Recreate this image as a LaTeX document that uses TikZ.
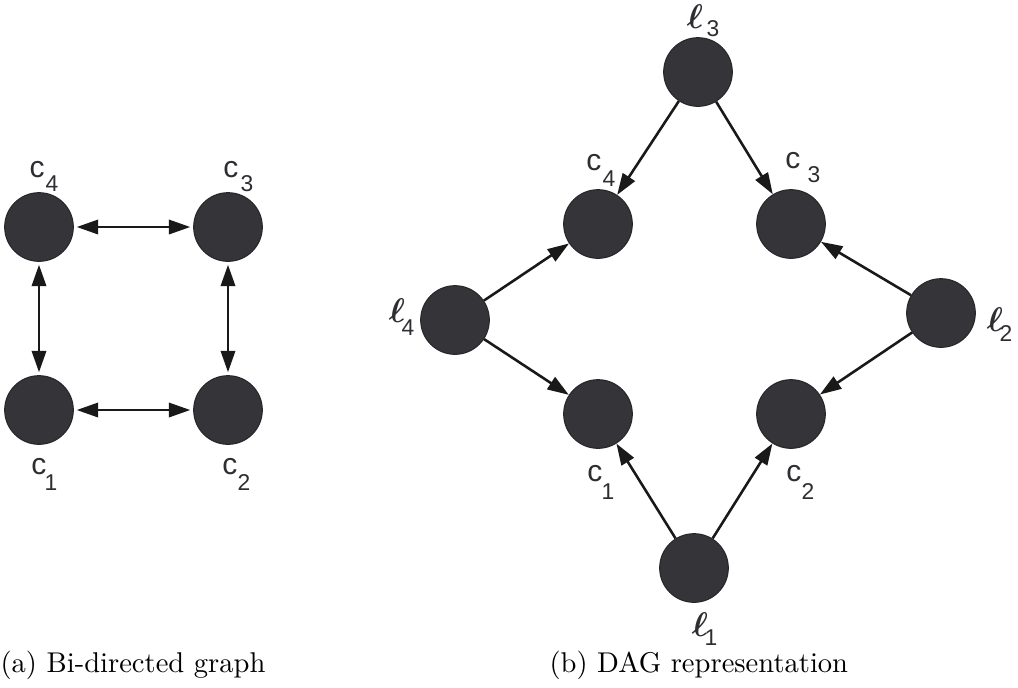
\documentclass[tikz,border=0pt]{standalone}
\usepackage{bm}
\usepackage{fontspec}
\newfontfamily\arial{Liberation Sans}
\usetikzlibrary{arrows.meta}
\definecolor{nodefill}{RGB}{52,52,57}
\definecolor{nodeline}{RGB}{40,40,44}
\definecolor{labelcol}{RGB}{45,45,50}
\newcommand{\bell}{$\bm{\ell}$}
\begin{document}
\begin{tikzpicture}[x=0.35pt,y=-0.35pt,
  vtx/.style={circle,fill=nodefill,draw=nodeline,line width=0.4pt,minimum size=24pt,inner sep=0pt},
  lt/.style={inner sep=0pt,text=labelcol,font=\arial\fontsize{10.5}{10.5}\selectfont},
  sb/.style={inner sep=0pt,text=labelcol,font=\arial\fontsize{8}{8}\selectfont},
  elltxt/.style={inner sep=0pt,text=labelcol,font=\fontsize{11.5}{11.5}\selectfont},
  arr/.style={-{Triangle[length=7.5pt,width=5pt]},line width=0.9pt,color=black!90},
  barr/.style={{Triangle[length=7.5pt,width=5pt]}-{Triangle[length=7.5pt,width=5pt]},line width=0.9pt,color=black!90,shorten <=1pt,shorten >=1pt},
  captxt/.style={inner sep=0pt,anchor=base west,font=\fontsize{10}{12}\selectfont}]
\useasboundingbox (0,0) rectangle (1018,687);
% left panel
\node[vtx] (Lc4) at (39,227) {};
\node[vtx] (Lc3) at (228,227) {};
\node[vtx] (Lc1) at (39,410) {};
\node[vtx] (Lc2) at (228,410) {};
\draw[barr] (Lc4) -- (Lc3);
\draw[barr] (Lc1) -- (Lc2);
\draw[barr] (Lc4) -- (Lc1);
\draw[barr] (Lc3) -- (Lc2);
\node[lt] (tLc4) at (37,170) {c};
\node[sb] (sLc4) at (52,184) {4};
\node[lt] (tLc3) at (231,170) {c};
\node[sb] (sLc3) at (247,184) {3};
\node[lt] (tLc1) at (39,467) {c};
\node[sb] (sLc1) at (51,483) {1};
\node[lt] (tLc2) at (230,467) {c};
\node[sb] (sLc2) at (244,483) {2};
% right panel
\node[vtx] (l3) at (698,72) {};
\node[vtx] (Rc4) at (598,224) {};
\node[vtx] (Rc3) at (791,224) {};
\node[vtx] (l4) at (455,320) {};
\node[vtx] (l2) at (941,313) {};
\node[vtx] (Rc1) at (598,414) {};
\node[vtx] (Rc2) at (791,414) {};
\node[vtx] (l1) at (694,568) {};
\draw[arr] (l3) -- (Rc4);
\draw[arr] (l3) -- (Rc3);
\draw[arr] (l4) -- (Rc4);
\draw[arr] (l4) -- (Rc1);
\draw[arr] (l2) -- (Rc3);
\draw[arr] (l2) -- (Rc2);
\draw[arr] (l1) -- (Rc1);
\draw[arr] (l1) -- (Rc2);
\node[elltxt] (tl3) at (695,17) {\bell};
\node[sb] (sl3) at (713,29) {3};
\node[lt] (tRc4) at (594,163) {c};
\node[sb] (sRc4) at (609,179) {4};
\node[lt] (tRc3) at (793,161) {c};
\node[sb] (sRc3) at (814,175) {3};
\node[elltxt] (tl4) at (397,311) {\bell};
\node[sb] (sl4) at (408,328) {4};
\node[elltxt] (tl2) at (995,320) {\bell};
\node[sb] (sl2) at (1006,334) {2};
\node[lt] (tRc1) at (595,474) {c};
\node[sb] (sRc1) at (608,492) {1};
\node[lt] (tRc2) at (794,474) {c};
\node[sb] (sRc2) at (808,492) {2};
\node[elltxt] (tl1) at (700,625) {\bell};
\node[sb] (sl1) at (711,638) {1};
% captions
\node[captxt] (capa) at (0,672) {(a) Bi-directed graph};
\node[captxt] (capb) at (549,672) {(b) DAG representation};
\end{tikzpicture}
\end{document}
